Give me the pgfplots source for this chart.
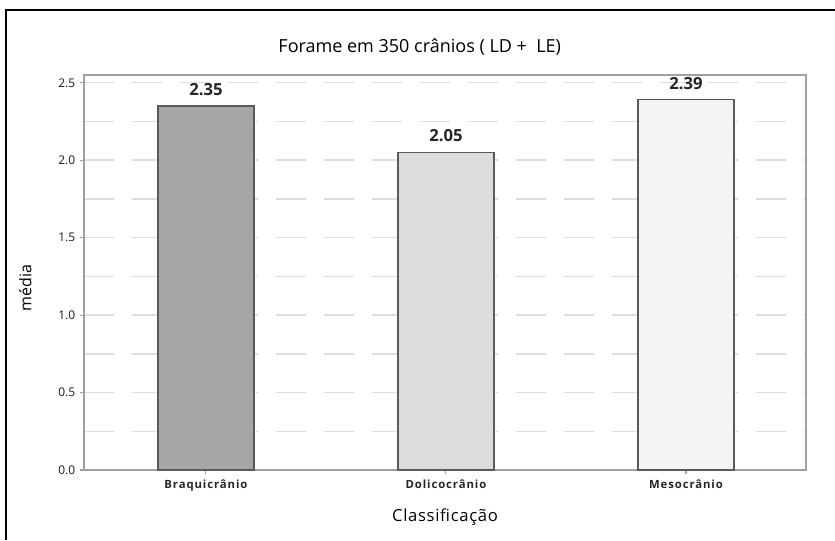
\documentclass[border=0pt]{standalone}
\usepackage{fontspec}
\setmainfont{Open Sans}
\newfontfamily\spacedfont[LetterSpace=8]{Open Sans}
\newfontfamily\lightspaced[LetterSpace=4]{Open Sans}
\usepackage{pgfplots}
\pgfplotsset{compat=1.18}

\definecolor{barA}{HTML}{A6A6A6}
\definecolor{barB}{HTML}{DCDCDC}
\definecolor{barC}{HTML}{F4F4F4}
\definecolor{edge}{HTML}{5A5A5A}
\definecolor{axisgray}{HTML}{A0A0A0}
\definecolor{gridgray}{HTML}{DEDEDE}

\begin{document}
\begin{tikzpicture}
% page frame
\path[use as bounding box] (0pt,0pt) rectangle (626.25pt,405pt);
\draw[black, line width=1.5pt] (4.5pt,0pt) -- (4.5pt,397.5pt) -- (626.25pt,397.5pt);

\begin{axis}[
  at={(63pt,52.5pt)}, anchor=south west,
  scale only axis, width=541.5pt, height=296.25pt,
  xmin=-0.508, xmax=2.5, ymin=0, ymax=2.55,
  xtick={0,1,2},
  xticklabels={Braquicrânio,Dolicocrânio,Mesocrânio},
  ytick={0,0.5,...,2.5},
  minor ytick={0.25,0.75,...,2.25},
  /pgf/number format/assume math mode=true,
  yticklabel style={font=\fontsize{9}{10}\selectfont, text=black!90,
    /pgf/number format/.cd, fixed, fixed zerofill, precision=1},
  xticklabel style={font=\spacedfont\fontsize{8.5}{10}\selectfont\bfseries, text=black!85, yshift=-1pt},
  ymajorgrids, yminorgrids,
  major grid style={gridgray, line width=1.1pt, dash pattern=on 22.5pt off 13.5pt},
  minor grid style={gridgray, line width=1.1pt, dash pattern=on 22.5pt off 13.5pt},
  axis line style={axisgray, line width=1pt},
  tick style={axisgray, line width=0.8pt},
  major tick length=3pt, minor tick length=0pt,
  tick align=outside, xtick pos=bottom, ytick pos=left,
  title={Forame em 350 crânios ( LD +\ \ LE)},
  title style={font=\fontsize{13.5}{15}\selectfont, at={(axis description cs:0.465,1)}, anchor=south, yshift=5pt},
  xlabel={Classificação},
  xlabel style={font=\lightspaced\fontsize{12.5}{15}\selectfont, yshift=-6pt},
  ylabel={média},
  ylabel style={font=\fontsize{12}{14}\selectfont, at={(axis description cs:-0.066,0.46)}},
  nodes near coords,
  nodes near coords style={font=\fontsize{12.5}{14}\selectfont\bfseries, text=black!85,
    yshift=4pt,
    /pgf/number format/.cd, fixed, fixed zerofill, precision=2},
]
\addplot[ybar, bar width=0.4, bar shift=0pt, fill=barA, draw=edge, line width=1pt] coordinates {(0,2.35)};
\addplot[ybar, bar width=0.4, bar shift=0pt, fill=barB, draw=edge, line width=1pt] coordinates {(1,2.05)};
\addplot[ybar, bar width=0.4, bar shift=0pt, fill=barC, draw=edge, line width=1pt] coordinates {(2,2.39)};
\end{axis}
\end{tikzpicture}
\end{document}
